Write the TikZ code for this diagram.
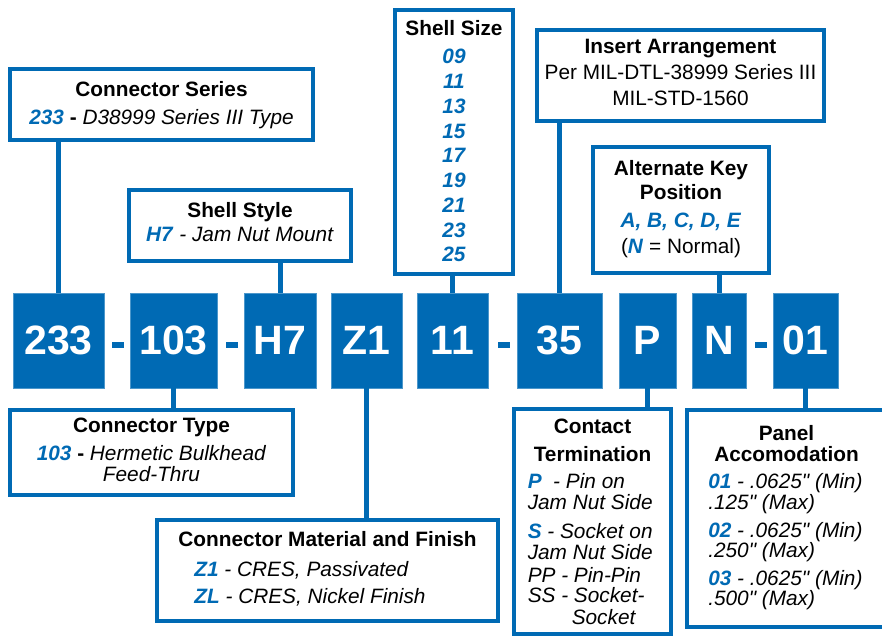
\documentclass[tikz,border=0pt]{standalone}
\usepackage{fontspec}
\setmainfont{Liberation Sans}[Ligatures=TeXOff]
\usepackage{xcolor}
\definecolor{codeblue}{RGB}{0,106,180}
\newcommand{\code}[1]{\textcolor{codeblue}{\textbf{\textit{#1}}}}

\begin{document}
\begin{tikzpicture}[
    x=1pt, y=-1pt,
    every node/.style={font=\fontsize{20.8}{21}\selectfont},
    codebox/.style={fill=codeblue, draw=codeblue!70, line width=0.6pt, text=white, inner sep=0pt,
        minimum height=95pt, font=\fontsize{41}{41}\selectfont\bfseries},
    descbox/.style={draw=codeblue, line width=4pt, fill=white, inner sep=0pt},
    dashbox/.style={fill=codeblue, inner sep=0pt, minimum width=12pt, minimum height=6pt},
    link/.style={draw=codeblue, line width=5pt}
]
    \useasboundingbox (0,0) rectangle (882,635);

    % --------------------------------------------------------
    % 1. PART NUMBER BLOCKS
    % --------------------------------------------------------

    \node (c233) [codebox, minimum width=91pt] at (58.5, 340.5) {233};
    \node (dashA) [dashbox] at (118, 345) {};
    \node (c103) [codebox, minimum width=87pt] at (173.5, 340.5) {103};
    \node (dashB) [dashbox] at (231.5, 345) {};
    \node (cH7) [codebox, minimum width=72pt] at (280, 340.5) {H7};
    \node (cZ1) [codebox, minimum width=71pt] at (366.5, 340.5) {Z1};
    \node (c11) [codebox, minimum width=71pt] at (452.5, 340.5) {11};
    \node (dashC) [dashbox] at (503.5, 345) {};
    \node (c35) [codebox, minimum width=85pt] at (559.5, 340.5) {35};
    \node (cP) [codebox, minimum width=57pt] at (647.5, 340.5) {P};
    \node (cN) [codebox, minimum width=54pt] at (719, 340.5) {N};
    \node (dashD) [dashbox] at (761, 345) {};
    \node (c01) [codebox, minimum width=65pt] at (805.5, 340.5) {01};

    % --------------------------------------------------------
    % 2. DESCRIPTION BOXES ABOVE
    % --------------------------------------------------------

    % Connector Series
    \node (series) [descbox, minimum width=303pt, minimum height=71pt] at (161.5, 104.5) {
        \begin{tabular}{@{}c@{}}
        \rule{0pt}{18pt}\textbf{Connector Series} \\[7pt]
        \code{233} \textbf{-} \textit{D38999 Series III Type}
        \end{tabular}
    };

    % Shell Style
    \node (style) [descbox, minimum width=222pt, minimum height=71pt] at (240, 225.5) {
        \begin{tabular}{@{}c@{}}
        \textbf{Shell Style} \\[3pt]
        \code{H7} \textit{- Jam Nut Mount}
        \end{tabular}
    };

    % Shell Size
    \node (size) [descbox, minimum width=118pt, minimum height=264pt] at (454, 142) {
        \begin{tabular}{@{}c@{}}
        \rule{0pt}{20pt}\textbf{Shell Size} \\[7pt]
        \code{09} \\[3.75pt]
        \code{11} \\[3.75pt]
        \code{13} \\[3.75pt]
        \code{15} \\[3.75pt]
        \code{17} \\[3.75pt]
        \code{19} \\[3.75pt]
        \code{21} \\[3.75pt]
        \code{23} \\[3.75pt]
        \code{25}
        \end{tabular}
    };

    % Insert Arrangement
    \node (insert) [descbox, minimum width=287pt, minimum height=91pt] at (680.5, 75.5) {
        \begin{tabular}{@{}c@{}}
        \textbf{Insert Arrangement} \\[5pt]
        Per MIL-DTL-38999 Series III \\[5pt]
        MIL-STD-1560
        \end{tabular}
    };

    % Alternate Key Position
    \node (key) [descbox, minimum width=176pt, minimum height=126pt] at (681, 210) {
        \begin{tabular}{@{}c@{}}
        \textbf{Alternate Key} \\[3pt]
        \textbf{Position} \\[7pt]
        \code{A, B, C, D, E} \\[4pt]
        (\code{N} = Normal)
        \end{tabular}
    };

    % --------------------------------------------------------
    % 3. DESCRIPTION BOXES BELOW
    % --------------------------------------------------------

    % Connector Type
    \node (type) [descbox, minimum width=283pt, minimum height=85pt] at (151.5, 452.5) {
        \begin{tabular}{@{}c@{}}
        \textbf{Connector Type} \\[7pt]
        \code{103} \textbf{-} \textit{Hermetic Bulkhead} \\[-1pt]
        \textit{Feed-Thru}
        \end{tabular}
    };

    % Connector Material and Finish
    \node (material) [descbox, minimum width=341pt, minimum height=101pt] at (327.5, 570.5) {
        \begin{tabular}{@{}l@{}}
        \multicolumn{1}{c}{\textbf{Connector Material and Finish}} \\[9pt]
        \hspace*{22pt}\code{Z1} \textit{- CRES, Passivated} \\[6pt]
        \hspace*{22pt}\code{ZL} \textit{- CRES, Nickel Finish}
        \end{tabular}
    };

    % Contact Termination
    \node (contact) [descbox, minimum width=157pt, minimum height=225pt] at (592.5, 521.5) {
        \begin{tabular}{@{}l@{}}
        \multicolumn{1}{c}{\rule{0pt}{22pt}\textbf{Contact}} \\[6pt]
        \multicolumn{1}{c}{\textbf{Termination}} \\[6pt]
        \code{P}\ \textit{ - Pin on} \\
        \textit{Jam Nut Side} \\[7pt]
        \code{S} \textit{- Socket on} \\
        \textit{Jam Nut Side} \\[1pt]
        \textit{PP - Pin-Pin} \\[-1pt]
        \textit{SS - Socket-} \\[1pt]
        \hspace*{44pt}\textit{Socket}
        \end{tabular}
    };

    % Panel Accomodation
    \node (panel) [descbox, minimum width=199pt, minimum height=217pt] at (786.5, 518.5) {
        \begin{tabular}{@{}l@{}}
        \multicolumn{1}{c}{\textbf{Panel}} \\
        \multicolumn{1}{c}{\textbf{Accomodation}} \\[6pt]
        \code{01} \textit{- .0625" (Min)} \\[-1pt]
        \textit{.125" (Max)} \\[7pt]
        \code{02} \textit{- .0625" (Min)} \\[-1pt]
        \textit{.250" (Max)} \\[6pt]
        \code{03} \textit{- .0625" (Min)} \\[-1pt]
        \textit{.500" (Max)}
        \end{tabular}
    };

    % --------------------------------------------------------
    % 4. CONNECTING LINES
    % --------------------------------------------------------

    \draw [link] (c233.north) -- (c233.north |- series.south);
    \draw [link] (cH7.north) -- (cH7.north |- style.south);
    \draw [link] (c11.north) -- (c11.north |- size.south);
    \draw [link] (c35.north) -- (c35.north |- insert.south);
    \draw [link] (cN.north) -- (cN.north |- key.south);
    \draw [link] (c103.south) -- (c103.south |- type.north);
    \draw [link] (cZ1.south) -- (cZ1.south |- material.north);
    \draw [link] (cP.south) -- (cP.south |- contact.north);
    \draw [link] (c01.south) -- (c01.south |- panel.north);

\end{tikzpicture}
\end{document}
